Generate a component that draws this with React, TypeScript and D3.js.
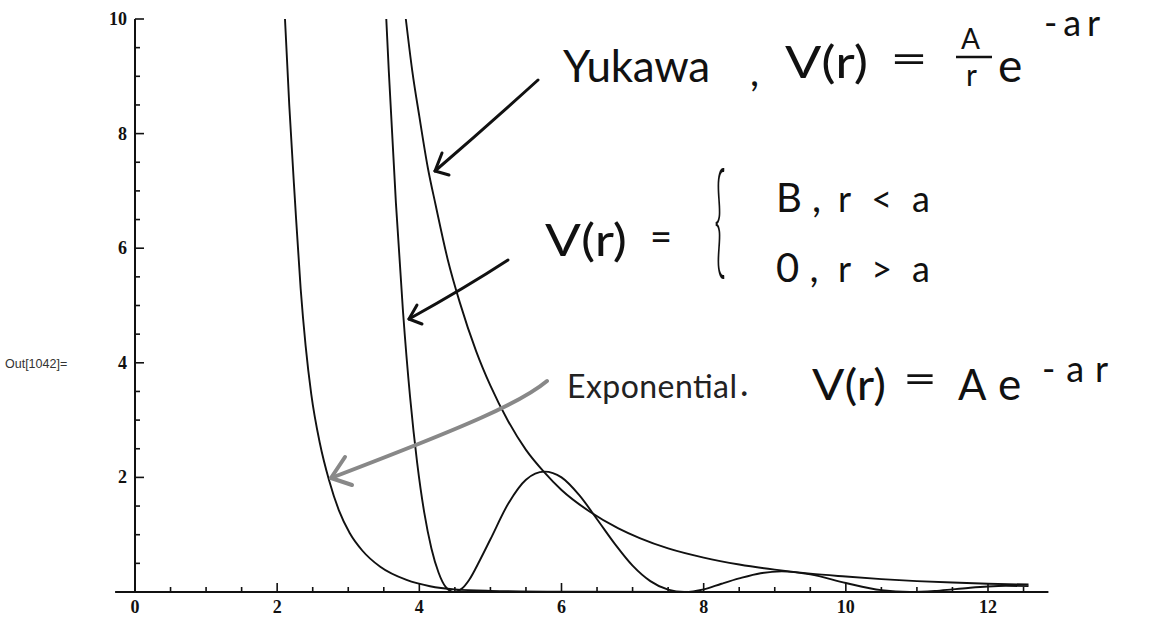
import React from "react";
import * as d3 from "d3";

// Potential curves, V(r) sampled along r
const expCurve: [number, number][] = [
  [2.11, 10], [2.17, 8.5], [2.25, 6.84], [2.33, 5.3], [2.4, 4.3], [2.48, 3.45],
  [2.6, 2.6], [2.73, 1.95], [2.87, 1.42], [3.02, 1.03], [3.2, 0.72], [3.45, 0.44],
  [3.82, 0.21], [4.15, 0.1], [4.5, 0.045], [5.0, 0.02], [6.0, 0.005], [8.0, 0.001],
  [12.57, 0],
];

const wellCurve: [number, number][] = [
  [3.535, 10], [3.57, 9.1], [3.67, 6.8], [3.77, 4.9], [3.87, 3.4], [3.97, 2.25],
  [4.07, 1.38], [4.17, 0.76], [4.27, 0.34], [4.37, 0.09], [4.49, 0],
  [4.6, 0.06], [4.7, 0.21], [4.85, 0.55], [5.0, 0.92], [5.25, 1.54], [5.5, 1.96],
  [5.76, 2.1], [6.0, 2.0], [6.25, 1.69], [6.5, 1.27], [6.75, 0.84], [7.0, 0.46],
  [7.25, 0.19], [7.5, 0.04], [7.725, 0], [8.0, 0.045], [8.25, 0.144], [8.5, 0.237],
  [8.8, 0.328], [9.1, 0.36], [9.5, 0.307], [10.0, 0.157], [10.5, 0.032], [10.9, 0],
  [11.25, 0.018], [11.5, 0.046], [11.75, 0.075], [12.0, 0.097], [12.25, 0.108],
  [12.57, 0.102],
];

const yukawaCurve: [number, number][] = [
  [3.81, 10], [3.9, 9.1], [4.0, 8.3], [4.12, 7.4], [4.23, 6.75], [4.4, 5.8],
  [4.57, 5.05], [4.8, 4.2], [5.0, 3.6], [5.25, 2.98], [5.5, 2.48], [5.75, 2.1],
  [6.0, 1.78], [6.4, 1.4], [6.8, 1.11], [7.1, 0.94], [7.5, 0.76], [8.0, 0.6],
  [8.5, 0.48], [9.0, 0.39], [9.5, 0.32], [10.0, 0.27], [10.5, 0.225], [11.0, 0.19],
  [11.5, 0.165], [12.0, 0.145], [12.57, 0.13],
];

const xTickLabels = [0, 2, 4, 6, 8, 10, 12];
const yTickLabels = [2, 4, 6, 8, 10];

const W = 1166;
const H = 618;

export default function App() {
  const x = d3.scaleLinear().domain([0, 12]).range([135, 988]);
  const y = d3.scaleLinear().domain([0, 10]).range([592, 19]);

  const line = d3
    .line<[number, number]>()
    .x((d) => x(d[0]))
    .y((d) => y(d[1]))
    .curve(d3.curveMonotoneX);

  const xMinor = d3.range(0, 12.51, 0.5);
  const yMinor = d3.range(0.5, 10.01, 0.5);

  const hand = "Lato, 'Open Sans', sans-serif";
  const serif = "'Liberation Serif', 'Times New Roman', serif";

  return (
    <div style={{ position: "fixed", left: 0, top: 0 }}>
      <svg width={W} height={H} style={{ display: "block", background: "#fff" }}>
        {/* axes */}
        <g stroke="#111" fill="none">
          <line x1={x(-0.28)} x2={x(12.85)} y1={y(0)} y2={y(0)} strokeWidth={2} />
          <line x1={x(0)} x2={x(0)} y1={y(0)} y2={y(10)} strokeWidth={2} />
          {xMinor.map((v) => {
            const major = Math.abs(v % 2) < 1e-9;
            return (
              <line
                key={"xt" + v}
                x1={x(v)}
                x2={x(v)}
                y1={y(0)}
                y2={y(0) - (major ? 9 : 5)}
                strokeWidth={1.6}
              />
            );
          })}
          {yMinor.map((v) => {
            const major = Math.abs(v % 2) < 1e-9;
            return (
              <line
                key={"yt" + v}
                x1={x(0)}
                x2={x(0) + (major ? 9 : 5)}
                y1={y(v)}
                y2={y(v)}
                strokeWidth={1.6}
              />
            );
          })}
        </g>
        <g fontFamily={serif} fontWeight="bold" fontSize={18} fill="#111">
          {xTickLabels.map((v) => (
            <text key={"xl" + v} x={x(v)} y={613} textAnchor="middle">
              {v}
            </text>
          ))}
          {yTickLabels.map((v) => (
            <text key={"yl" + v} x={127} y={y(v) + 6} textAnchor="end">
              {v}
            </text>
          ))}
        </g>

        <text x={5} y={368} fontFamily="'Liberation Sans', Arial, sans-serif" fontSize={12.5} fill="#333">
          Out[1042]=
        </text>

        {/* curves */}
        <g fill="none" stroke="#111" strokeWidth={1.9}>
          <path d={line(expCurve) ?? ""} />
          <path d={line(wellCurve) ?? ""} />
          <path d={line(yukawaCurve) ?? ""} />
        </g>

        {/* annotations */}
        <g fontFamily={hand} fontWeight={400} fill="#111">
          <text x={563} y={82} fontSize={44} textLength={147} lengthAdjust="spacing">Yukawa</text>
          <text x={750} y={86} fontSize={40}>,</text>
          <text x={785} y={78} fontSize={44} textLength={83} lengthAdjust="spacingAndGlyphs">V(r)</text>
          <text x={890} y={73} fontSize={40} textLength={38} lengthAdjust="spacingAndGlyphs">=</text>
          <text x={961} y={49} fontSize={28}>A</text>
          <line x1={956} x2={992} y1={57} y2={57} stroke="#111" strokeWidth={2.4} />
          <text x={966} y={86} fontSize={30}>r</text>
          <text x={998} y={82} fontSize={46}>e</text>
          <text x={1044} y={36} fontSize={36} textLength={56} lengthAdjust="spacing">-ar</text>

          <text x={545} y={256} fontSize={44} textLength={82} lengthAdjust="spacingAndGlyphs">V(r)</text>
          <text x={650} y={251} fontSize={40} textLength={22} lengthAdjust="spacingAndGlyphs">=</text>
          <text x={714} y={85} fontSize={40} fontWeight={300} transform="scale(1,3.1)">{"{"}</text>
          <text x={776} y={212} fontSize={40}>B ,</text>
          <text x={838} y={212} fontSize={36} textLength={92} lengthAdjust="spacing">r&lt;a</text>
          <text x={776} y={282} fontSize={40}>0 ,</text>
          <text x={838} y={282} fontSize={36} textLength={92} lengthAdjust="spacing">r&gt;a</text>

          <text x={567} y={398} fontSize={32} textLength={170} lengthAdjust="spacing" fill="#222">Exponential</text>
          <text x={740} y={396} fontSize={36} fill="#222">.</text>
          <text x={812} y={400} fontSize={42} textLength={74} lengthAdjust="spacingAndGlyphs">V(r)</text>
          <text x={903} y={393} fontSize={40} textLength={34} lengthAdjust="spacingAndGlyphs">=</text>
          <text x={958} y={400} fontSize={42}>A</text>
          <text x={998} y={400} fontSize={44}>e</text>
          <text x={1042} y={382} fontSize={36} textLength={66} lengthAdjust="spacing">-ar</text>
        </g>

        {/* arrows */}
        <g fill="none" stroke="#111" strokeWidth={3} strokeLinecap="round">
          <path d="M538,80 Q485,128 435,171" />
          <path d="M435,171 L442,153 M435,171 L449,175" />
          <path d="M508,260 Q465,288 409,319" />
          <path d="M409,319 L417,305 M409,319 L422,324" />
        </g>
        <g fill="none" stroke="#888" strokeWidth={4} strokeLinecap="round">
          <path d="M547,381 C522,402 470,425 331,478" />
          <path d="M331,478 L345,457 M331,478 L352,485" />
        </g>
      </svg>
    </div>
  );
}
